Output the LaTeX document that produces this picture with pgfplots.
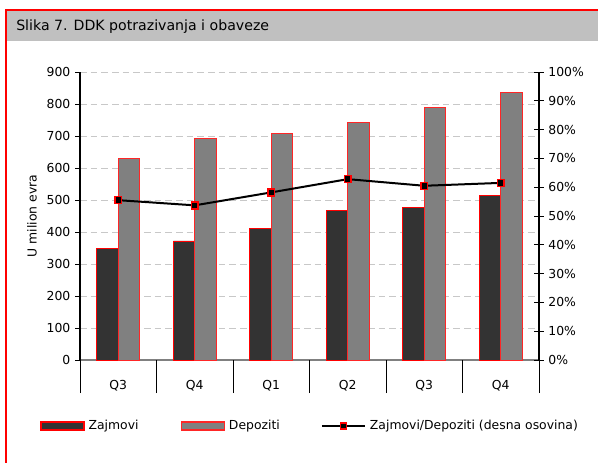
\documentclass[border=0pt]{standalone}
\usepackage{pgfplots}
\pgfplotsset{compat=1.18}
\usepackage{fontspec}
\setmainfont{DejaVu Sans}
\definecolor{darkbar}{HTML}{333333}
\definecolor{greybar}{HTML}{808080}
\definecolor{titlegrey}{HTML}{C0C0C0}
\definecolor{gridgrey}{HTML}{C8C8C8}
\begin{document}
\begin{tikzpicture}
\path[use as bounding box] (0pt,0pt) rectangle (448.5pt,-346.5pt);
\clip (0pt,0pt) rectangle (448.5pt,-346.5pt);
\begin{scope}[x=0.75pt,y=-0.75pt]
\fill[titlegrey] (7,11) rectangle (600,41);
\draw[red, line width=1.3pt] (6,10) rectangle (620,480);
\node[anchor=west, font=\fontsize{10.6}{12}\selectfont, inner sep=0pt] at (16,26.5) {Slika 7. DDK potrazivanja i obaveze};
\end{scope}

\begin{axis}[
  at={(60pt,-270pt)}, anchor=south west, scale only axis,
  width=344.25pt, height=216pt,
  xmin=-0.5, xmax=5.5, ymin=0, ymax=900,
  axis x line*=bottom, axis y line*=left,
  x axis line style={draw=greybar, line width=1.6pt, -},
  y axis line style={draw=black, line width=0.8pt, -},
  xtick={0,...,5}, xticklabels={Q3,Q4,Q1,Q2,Q3,Q4},
  xtick style={draw=none},
  extra x ticks={-0.5,0.5,1.5,2.5,3.5,4.5,5.5},
  extra x tick labels={},
  extra x tick style={xtick style={draw=black, line width=0.7pt}, major tick length=24.75pt, tick align=outside, xmajorgrids=false},
  ytick={0,100,...,900},
  ytick style={draw=black, line width=0.6pt},
  tick align=outside, major tick length=3.75pt,
  ymajorgrids, y grid style={gridgrey, line width=0.7pt, dash pattern=on 5pt off 3pt},
  tick label style={font=\fontsize{9.3}{11}\selectfont},
  /pgf/number format/assume math mode=true,
  xticklabel style={anchor=center, yshift=-15.75pt},
  every axis y label/.style={at={(axis description cs:-0.1046,0.5)}, rotate=90, anchor=center, font=\fontsize{9.3}{11}\selectfont},
  ylabel={U milion evra},
  legend columns=3,
  legend style={at={(axis description cs:-0.0871,-0.229)}, anchor=west, draw=none, fill=none, inner sep=0pt, column sep=3pt, font=\fontsize{9.3}{11}\selectfont, nodes={inner sep=0pt}},
]
\addplot[ybar, bar width=0.281, bar shift=-0.1405, fill=darkbar, draw=red, line width=0.6pt,
  legend image code/.code={\draw[fill=darkbar, draw=red, line width=1pt] (0pt,-3pt) rectangle (32.25pt,3pt);}]
  coordinates {(0,350) (1,372) (2,412) (3,466) (4,478) (5,514)};
\addlegendentry{\makebox[66pt][l]{Zajmovi}}
\addplot[ybar, bar width=0.281, bar shift=0.1405, fill=greybar, draw=red!85, line width=0.6pt,
  legend image code/.code={\draw[fill=greybar, draw=red!85, line width=1pt] (0pt,-3pt) rectangle (32.25pt,3pt);}]
  coordinates {(0,630) (1,693) (2,709) (3,742) (4,790) (5,836)};
\addlegendentry{\makebox[66pt][l]{Depoziti}}
\addlegendimage{legend image code/.code={\draw[black, line width=1.5pt] (0pt,0pt) -- (32.25pt,0pt); \draw[red, fill=black, line width=1.1pt] (13.9pt,-2.2pt) rectangle (18.3pt,2.2pt);}}
\addlegendentry{Zajmovi/Depoziti (desna osovina)}
\end{axis}

\begin{axis}[
  at={(60pt,-270pt)}, anchor=south west, scale only axis,
  width=344.25pt, height=216pt,
  xmin=-0.5, xmax=5.5, ymin=0, ymax=100,
  axis x line=none, axis y line*=right,
  y axis line style={draw=black, line width=0.8pt, -},
  ytick={0,10,...,100},
  yticklabel={\pgfmathprintnumber{\tick}\%},
  ytick style={draw=black, line width=0.6pt},
  tick align=center, major tick length=7pt,
  tick label style={font=\fontsize{9.3}{11}\selectfont},
  /pgf/number format/assume math mode=true,
]
\addplot[black, line width=1.5pt, mark=square*, mark size=2.6pt, mark options={fill=black, draw=red, line width=1.1pt}]
  coordinates {(0,55.5) (1,53.7) (2,58.2) (3,62.8) (4,60.5) (5,61.5)};
\end{axis}
\end{tikzpicture}
\end{document}
